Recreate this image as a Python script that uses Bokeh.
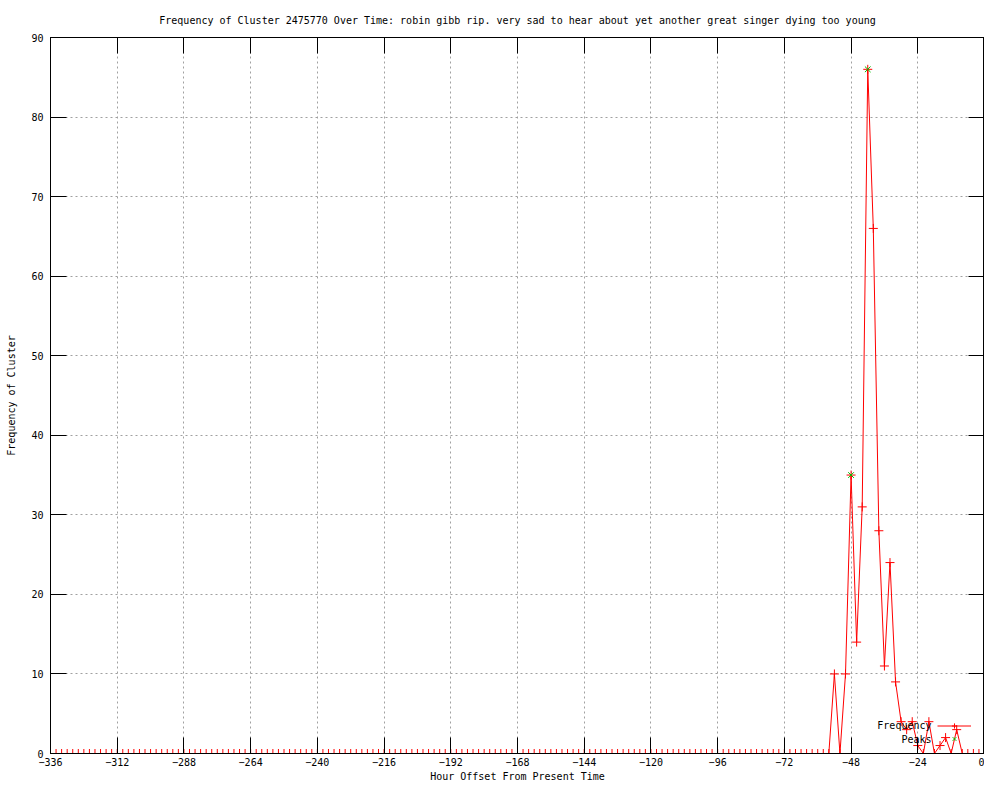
from bokeh.plotting import figure
from bokeh.models import (Range1d, FixedTicker, LinearAxis, Legend, LegendItem, Label,
                          CustomLabelingPolicy)
from bokeh.embed import file_html
from bokeh.resources import INLINE

# ---- data ----
hours = list(range(-336, 1, 2))  # sampling every 2 hours
frequency = [
    0, 0, 0, 0, 0, 0, 0, 0, 0, 0, 0, 0, 0, 0, 0, 0, 0, 0, 0, 0,
    0, 0, 0, 0, 0, 0, 0, 0, 0, 0, 0, 0, 0, 0, 0, 0, 0, 0, 0, 0,
    0, 0, 0, 0, 0, 0, 0, 0, 0, 0, 0, 0, 0, 0, 0, 0, 0, 0, 0, 0,
    0, 0, 0, 0, 0, 0, 0, 0, 0, 0, 0, 0, 0, 0, 0, 0, 0, 0, 0, 0,
    0, 0, 0, 0, 0, 0, 0, 0, 0, 0, 0, 0, 0, 0, 0, 0, 0, 0, 0, 0,
    0, 0, 0, 0, 0, 0, 0, 0, 0, 0, 0, 0, 0, 0, 0, 0, 0, 0, 0, 0,
    0, 0, 0, 0, 0, 0, 0, 0, 0, 0, 0, 0, 0, 0, 0, 0, 0, 0, 0, 0,
    0,                                   # -56
    10, 0, 10, 35, 14, 31, 86, 66, 28, 11, 24, 9,   # -54 .. -32
    4, 3, 4, 1, 0, 4, 0, 1, 2, 0, 3, 0,             # -30 .. -8
    0, 0, 0, 0,                                      # -6 .. 0
]
peak_hours = [-48, -42]
peak_values = [35, 86]

x_ticks = [-336, -312, -288, -264, -240, -216, -192, -168, -144, -120, -96, -72, -48, -24, 0]
y_ticks = [0, 10, 20, 30, 40, 50, 60, 70, 80, 90]

title_text = ("Frequency of Cluster 2475770 Over Time: robin gibb rip. very sad to hear "
              "about yet another great singer dying too young")

FONT = "DejaVu Sans Mono"
FS = "10px"

p = figure(width=984, height=784, output_backend="svg", toolbar_location=None,
           x_range=Range1d(-336, 0), y_range=Range1d(0, 90),
           min_border_left=50, min_border_right=0, min_border_top=37, min_border_bottom=28)
p.background_fill_color = "white"
p.border_fill_color = "white"
p.outline_line_color = "black"
p.outline_line_width = 1

p.title.text = title_text
p.title.align = "center"
p.title.vertical_align = "top"
p.title.text_font = FONT
p.title.text_font_size = FS
p.title.text_font_style = "normal"
p.title.text_color = "black"
p.title.standoff = 20

# main axes
p.xaxis.ticker = FixedTicker(ticks=x_ticks)
p.yaxis.ticker = FixedTicker(ticks=y_ticks)
for ax in (p.xaxis[0], p.yaxis[0]):
    ax.major_tick_in = 16
    ax.major_tick_out = 0
    ax.minor_tick_in = 0
    ax.minor_tick_out = 0
    ax.axis_line_color = "black"
    ax.major_tick_line_color = "black"
    ax.major_label_text_font = FONT
    ax.major_label_text_font_size = FS
    ax.major_label_text_color = "black"
    ax.axis_label_text_font = FONT
    ax.axis_label_text_font_size = FS
    ax.axis_label_text_font_style = "normal"
    ax.axis_label_text_color = "black"
p.xaxis.axis_label = "Hour Offset From Present Time"
p.yaxis.axis_label = "Frequency of Cluster"
p.xaxis.major_label_standoff = 4
p.xaxis.axis_label_standoff = 2
p.yaxis.major_label_standoff = 7
p.yaxis.axis_label_standoff = 11

# mirror ticks on top and right (labels suppressed)
hide_all = "for (const i of indices) indices.unset(i)\nreturn indices"
top_ax = LinearAxis(ticker=FixedTicker(ticks=x_ticks), major_tick_in=16, major_tick_out=0,
                    minor_tick_in=0, minor_tick_out=0, major_label_text_font_size="0px",
                    major_label_standoff=5, axis_line_color="black",
                    major_label_policy=CustomLabelingPolicy(code=hide_all))
right_ax = LinearAxis(ticker=FixedTicker(ticks=y_ticks), major_tick_in=16, major_tick_out=0,
                      minor_tick_in=0, minor_tick_out=0, major_label_text_font_size="0px",
                      major_label_standoff=0, axis_line_color="black",
                      major_label_policy=CustomLabelingPolicy(code=hide_all))
p.add_layout(top_ax, "above")
p.add_layout(right_ax, "right")

# grid
p.xgrid.ticker = FixedTicker(ticks=x_ticks)
p.ygrid.ticker = FixedTicker(ticks=y_ticks)
for g in (p.xgrid[0], p.ygrid[0]):
    g.grid_line_color = "#a0a0a0"
    g.grid_line_dash = "2 3"
    g.grid_line_width = 1

# series
line_r = p.line(hours, frequency, line_color="#ff0000", line_width=1)
pts_r = p.scatter(hours, frequency, marker="cross", size=9, line_color="#ff0000", line_width=1)
peaks_r = p.scatter(peak_hours, peak_values, marker="x", size=8, line_color="#00c000", line_width=1)

# legend (gnuplot style: text then sample)
legend = Legend(items=[LegendItem(label=" ", renderers=[line_r, pts_r]),
                       LegendItem(label=" ", renderers=[peaks_r])],
                location=(887, 8), glyph_width=34, glyph_height=13, label_height=13,
                label_width=0, label_standoff=0, padding=0, margin=0, spacing=0,
                label_text_font_size=FS,
                background_fill_alpha=0, border_line_alpha=0)
p.add_layout(legend, "center")
p.add_layout(Label(x=881, y=28, x_units="screen", y_units="screen", text="Frequency",
                   text_align="right", text_baseline="middle", text_font=FONT,
                   text_font_size=FS, text_color="black"))
p.add_layout(Label(x=881, y=14, x_units="screen", y_units="screen", text="Peaks",
                   text_align="right", text_baseline="middle", text_font=FONT,
                   text_font_size=FS, text_color="black"))

open("out.html", "w").write(file_html(p, INLINE))
